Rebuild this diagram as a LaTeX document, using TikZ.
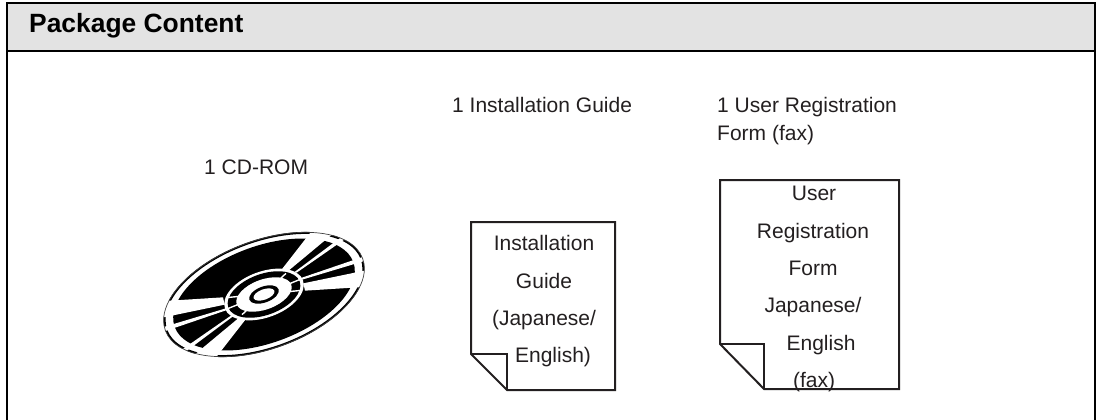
\documentclass[tikz,border=0pt]{standalone}
\usepackage{fontspec}
\setmainfont{Liberation Sans}
\definecolor{headgray}{HTML}{E3E3E3}
\definecolor{inkc}{HTML}{231F20}
\newcommand{\cdwideA}{\fill[white] (450,155) -- (559,15) -- (621,31) -- (478,150) -- cycle;}
\newcommand{\cdthinA}{\fill[white] (495,155) -- (645,43) -- (657,49) -- (500,158) -- cycle;}
\newcommand{\cdthinB}{\fill[white] (510,175) -- (727,101) -- (733,114) -- (513,180) -- cycle;}
\newcommand{\cdwideB}{\fill[white] (520,190) -- (737,145) -- (731,199) -- (525,212) -- cycle;}
\newcommand{\cdgaps}{\draw[white,line width=1.4pt] (402,222) -- (468,160) (402,222) -- (511,178) (402,222) -- (516,211);}
\tikzset{
  label text/.style={font=\fontsize{21pt}{25pt}\selectfont,text=inkc,inner sep=0pt},
  page line/.style={draw=inkc,line width=2pt,line join=miter},
  frame line/.style={draw=black,line width=2pt},
}
\begin{document}
\begin{tikzpicture}[x=1pt,y=-1pt]
\useasboundingbox (0,0) rectangle (1098,420);
% header
\fill[headgray] (6.5,3) rectangle (1095,51);
\draw[frame line] (6.5,420) -- (6.5,3) -- (1095,3) -- (1095,420);
\draw[frame line] (6.5,51) -- (1095,51);
\node[anchor=base west,inner sep=0pt,font=\bfseries\fontsize{26.4pt}{30pt}\selectfont,text=black] (title) at (29,33) {Package Content};
% labels
\node[label text,anchor=base west] (cdlabel) at (204,174) {1 CD-ROM};
\node[label text,anchor=base west] (guidelabel) at (452,113) {1 Installation Guide};
\node[label text,anchor=base west] (formlabel1) at (717,112.5) {1 User Registration};
\node[label text,anchor=base west] (formlabel2) at (717,140) {Form (fax)};
% CD
\begin{scope}[shift={(264,294.5)},rotate=20]
\draw[black,line width=2pt] (0,0) ellipse (104 and 53.5);
\fill[black] (0,0) ellipse (95 and 48.5);
\end{scope}
\begin{scope}[shift={(130,220)},x=0.33333pt,y=-0.33333pt]
\begin{scope}
\clip[shift={(402,222)},rotate=20] (0,0) ellipse (330 and 175);
\cdwideA\cdthinA\cdthinB\cdwideB
\begin{scope}[rotate around={180:(402,222)}]
\cdwideA\cdthinA\cdthinB\cdwideB
\end{scope}
\end{scope}
\end{scope}
\begin{scope}[shift={(264,294.5)},rotate=20]
\draw[black!75,line width=0.7pt] (0,0) ellipse (105 and 54);
\fill[white] (0,0) ellipse (41.5 and 23);
\fill[black] (0,0) ellipse (38 and 20.5);
\end{scope}
\begin{scope}[shift={(130,220)},x=0.33333pt,y=-0.33333pt]
\cdgaps
\begin{scope}[rotate around={180:(402,222)}]
\cdgaps
\end{scope}
\end{scope}
\begin{scope}[shift={(264,294.5)},rotate=20]
\fill[white] (0,0) ellipse (29 and 15);
\fill[black] (0,0) ellipse (15.5 and 8);
\fill[white] (0,0) ellipse (11 and 5.2);
\end{scope}
% guide page
\coordinate (g1) at (471,222);
\coordinate (g2) at (615,222);
\coordinate (g3) at (615,390);
\coordinate (g4) at (507,390);
\coordinate (g5) at (471,354);
\coordinate (g6) at (507,354);
\draw[page line] (g1) -- (g2) -- (g3) -- (g4) -- (g5) -- cycle;
\draw[page line] (g5) -- (g6) -- (g4);
\node[label text,anchor=base] (gt1) at (544,250) {Installation};
\node[label text,anchor=base] (gt2) at (544,288) {Guide};
\node[label text,anchor=base] (gt3) at (544,325) {(Japanese/};
\node[label text,anchor=base] (gt4) at (553,362) {English)};
% form page
\coordinate (f1) at (720,180);
\coordinate (f2) at (899,180);
\coordinate (f3) at (899,389);
\coordinate (f4) at (764,389);
\coordinate (f5) at (720,344);
\coordinate (f6) at (764,344);
\draw[page line] (f1) -- (f2) -- (f3) -- (f4) -- (f5) -- cycle;
\draw[page line] (f5) -- (f6) -- (f4);
\node[label text,anchor=base] (ft1) at (814,200) {User};
\node[label text,anchor=base] (ft2) at (813,238) {Registration};
\node[label text,anchor=base] (ft3) at (813,275) {Form};
\node[label text,anchor=base] (ft4) at (813,312) {Japanese/};
\node[label text,anchor=base] (ft5) at (821,350) {English};
\node[label text,anchor=base] (ft6) at (814,387) {(fax)};
\end{tikzpicture}
\end{document}
